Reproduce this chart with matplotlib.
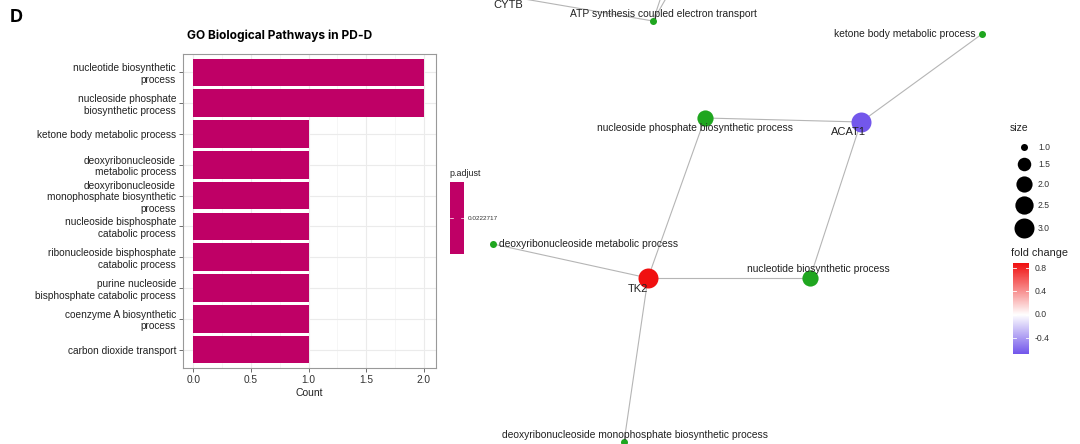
import matplotlib.pyplot as plt
import numpy as np
from matplotlib.colors import LinearSegmentedColormap, TwoSlopeNorm
from matplotlib.patches import Rectangle

plt.rcParams['font.family'] = ['Liberation Sans', 'DejaVu Sans']

# ---- bar chart data (top to bottom) ----
terms = ['nucleotide biosynthetic\nprocess',
         'nucleoside phosphate\nbiosynthetic process',
         'ketone body metabolic process',
         'deoxyribonucleoside\nmetabolic process',
         'deoxyribonucleoside\nmonophosphate biosynthetic\nprocess',
         'nucleoside bisphosphate\ncatabolic process',
         'ribonucleoside bisphosphate\ncatabolic process',
         'purine nucleoside\nbisphosphate catabolic process',
         'coenzyme A biosynthetic\nprocess',
         'carbon dioxide transport']
counts = [2, 2, 1, 1, 1, 1, 1, 1, 1, 1]
p_adjust = 0.0222717
bar_color = '#BF0066'

# ---- network data (layout in pixel space of the figure) ----
node_names = ['CYTB', 'ATP synthesis coupled electron transport', 'ketone body metabolic process',
              'ACAT1', 'nucleoside phosphate biosynthetic process', 'TK2',
              'nucleotide biosynthetic process', 'deoxyribonucleoside metabolic process',
              'deoxyribonucleoside monophosphate biosynthetic process', 'off1', 'off2']
node_x = [413, 653, 982, 861, 705, 648, 810, 493, 624, 670, 688]
node_y = [-20, 21, 34, 122, 118, 278, 278, 244, 442, -30, -40]
node_size = [3, 1, 1, 3, 2, 3, 2, 1, 1, 1, 1]
node_fc = [0.0, None, None, -0.674, None, 0.886, None, None, None, None, None]  # fold change of genes
label_dx = [95, 10, -6, -13, -10, -10, 8, 6, 11, 0, 0]
label_dy = [25, -7, 0, 10, 10, 11, -9, 0, -7, 0, 0]
label_ha = ['center', 'center', 'right', 'center', 'center', 'center', 'center', 'left', 'center', 'center', 'center']
edges = [('CYTB', 'ATP synthesis coupled electron transport'),
         ('ATP synthesis coupled electron transport', 'off1'),
         ('ATP synthesis coupled electron transport', 'off2'),
         ('ketone body metabolic process', 'ACAT1'),
         ('ACAT1', 'nucleoside phosphate biosynthetic process'),
         ('ACAT1', 'nucleotide biosynthetic process'),
         ('nucleoside phosphate biosynthetic process', 'TK2'),
         ('TK2', 'nucleotide biosynthetic process'),
         ('TK2', 'deoxyribonucleoside metabolic process'),
         ('TK2', 'deoxyribonucleoside monophosphate biosynthetic process')]
size_levels = [1.0, 1.5, 2.0, 2.5, 3.0]
fc_ticks = [0.8, 0.4, 0.0, -0.4]
fc_min, fc_max = -0.674, 0.886
go_green = '#1FA61F'

cmap = LinearSegmentedColormap.from_list('fc', ['#7357EB', 'white', '#F01010'])
norm = TwoSlopeNorm(vmin=fc_min, vcenter=0.0, vmax=fc_max)


def diam(s):
    return 7 + 13 * np.sqrt((s - 1) / 2.0)


fig = plt.figure(figsize=(10.8, 4.44), dpi=100)
net = fig.add_axes([0, 0, 1, 1])
net.set_xlim(0, 1080)
net.set_ylim(444, 0)
net.axis('off')

fig.text(10 / 1080, 1 - 17 / 444, 'D', fontsize=13, fontweight='bold', va='center', family=['Inter', 'DejaVu Sans'])

# ---- network ----
pos = {n: (x, y) for n, x, y in zip(node_names, node_x, node_y)}
for a, b in edges:
    net.plot([pos[a][0], pos[b][0]], [pos[a][1], pos[b][1]], color='#b5b5b5', lw=0.8, zorder=1)
for i, n in enumerate(node_names):
    c = cmap(norm(node_fc[i])) if node_fc[i] is not None else go_green
    net.scatter(node_x[i], node_y[i], s=(diam(node_size[i]) * 0.72) ** 2, color=c, lw=0, zorder=2)
    if not n.startswith('off'):
        fs = 8 if node_fc[i] is not None else 7.4
        net.text(node_x[i] + label_dx[i], node_y[i] + label_dy[i], n, ha=label_ha[i], va='center',
                 fontsize=fs, color='#222222', zorder=3)

# size legend
net.text(1010, 128, 'size', fontsize=7.5, va='center', color='#222222')
for s, y in zip(size_levels, [147, 164, 184, 205, 228]):
    net.scatter(1024, y, s=(diam(s) * 0.72) ** 2, color='black', lw=0)
    net.text(1038, y, f'{s:.1f}', fontsize=6.2, va='center', color='#333333')

# fold change legend
net.text(1011, 253, 'fold change', fontsize=7.8, va='center', color='#222222')
grad = np.linspace(fc_max, fc_min, 200).reshape(-1, 1)
net.imshow(grad, cmap=cmap, norm=norm, extent=(1013, 1029, 354, 263), aspect='auto', zorder=1)
for t in fc_ticks:
    y = 263 + (fc_max - t) / (fc_max - fc_min) * (354 - 263)
    net.plot([1013, 1016], [y, y], color='white', lw=0.6, zorder=2)
    net.plot([1026, 1029], [y, y], color='white', lw=0.6, zorder=2)
    net.text(1035, y, f'{t:.1f}', fontsize=6.2, va='center', color='#333333')

# p.adjust legend
net.text(449, 173, 'p.adjust', fontsize=6.4, va='center', color='#222222')
net.add_patch(Rectangle((450, 182), 14, 72, color=bar_color, lw=0))
net.plot([450, 453], [218, 218], color='white', lw=0.5)
net.plot([461, 464], [218, 218], color='white', lw=0.5)
net.text(468, 218, f'{p_adjust}', fontsize=4.6, va='center', color='#333333')

# ---- bar chart ----
ax = fig.add_axes([183 / 1080, 1 - 368 / 444, 253 / 1080, 314 / 444])
ypos = np.arange(len(terms))[::-1] + 1
ax.barh(ypos, counts, height=0.9, color=bar_color, zorder=2)
ax.set_xlim(-0.09, 2.105)
ax.set_ylim(0.4, 10.6)
ax.set_yticks(ypos)
ax.set_yticklabels(terms, fontsize=7.3, color='#222222', linespacing=1.2)
ax.set_xticks([0, 0.5, 1.0, 1.5, 2.0])
ax.set_xticklabels(['0.0', '0.5', '1.0', '1.5', '2.0'], fontsize=7.3, color='#333333')
ax.set_xticks([0.25, 0.75, 1.25, 1.75], minor=True)
ax.grid(which='major', color='#ebebeb', lw=0.8, zorder=0)
ax.grid(which='minor', axis='x', color='#f3f3f3', lw=0.5, zorder=0)
ax.tick_params(which='major', length=3, width=0.6, color='#555555', pad=2)
ax.tick_params(which='minor', length=0)
for sp in ax.spines.values():
    sp.set_color('#999999')
    sp.set_linewidth(0.8)
ax.set_xlabel('Count', fontsize=7.5, color='#222222', labelpad=2)
ax.set_title('GO Biological Pathways in PD-D', fontsize=8.6, fontweight='bold',
             family=['Inter', 'DejaVu Sans'], pad=11, x=0.38)

fig.savefig('out.png', dpi=100)
